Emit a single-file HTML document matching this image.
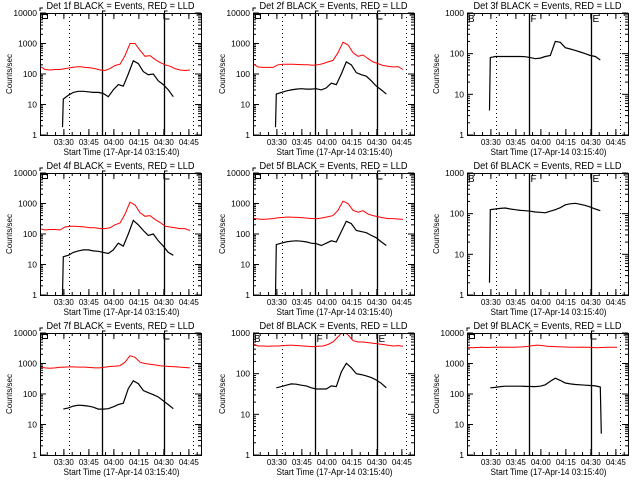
<!DOCTYPE html>
<html><head><meta charset="utf-8"><style>
html,body{margin:0;padding:0;background:#fff;}
svg{display:block;font-family:"Liberation Sans",sans-serif;}
</style></head><body>
<svg id="chart" width="640" height="480" viewBox="0 0 640 480" xmlns="http://www.w3.org/2000/svg"></svg>
<script>
// ---- data ----
const detNames = ["1f","2f","3f","4f","5f","6f","7f","8f","9f"];
const yDecades = [4,4,3,4,4,3,4,3,4];
const markerStyle = ["box","box","letter","box","box","letter","box","letter","box"];
const xTickLabels = ["03:30","03:45","04:00","04:15","04:30","04:45"];
const xTickMinutes = [14.33,29.33,44.33,59.33,74.33,89.33];
const markerMinutes = [17.4,37.2,74.4,91.8]; // dotted, solid, solid, dotted
const blackTimes = [14,17,20,23,26,29,32,35,38,41,44,47,50,53,56,59,62,65,68,71,74,77,80];
const redTimes = [0,3,6,9,12,15,18,21,24,27,30,33,36,39,42,45,48,51,54,57,60,63,66,69,72,75,78,81,84,87,90];
const blackStart = [1.8,1.8,4,1,1,2,null,null,null];
const blackEndDrop = [null,null,null,null,null,null,null,null,5];
const black1 = [15,20,25,27,27,26,25,25,23,18,30,45,40,100,270,220,120,95,100,60,45,30,18];
const black2 = [22,25,28,30,32,33,32,32,33,30,35,50,45,100,250,200,110,95,85,60,40,30,22];
const black3 = [80,85,85,85,85,85,85,84,80,75,78,85,90,200,190,140,130,120,110,100,90,85,70];
const black4 = [18,20,25,28,30,30,28,27,25,23,30,50,40,100,280,200,130,90,100,60,40,25,20];
const black5 = [45,50,55,58,60,58,55,50,48,42,50,60,55,120,260,220,130,120,110,90,75,55,42];
const black6 = [125,130,135,138,130,125,120,118,115,110,108,105,115,125,140,165,175,180,170,160,145,130,118];
const black7 = [32,35,40,43,42,40,37,32,32,33,38,45,50,150,270,220,130,110,95,80,60,45,33];
const black8 = [45,48,52,56,55,52,50,45,42,42,42,50,48,110,180,140,100,95,88,80,70,58,45];
const black9 = [160,165,175,180,180,180,180,178,176,175,180,200,260,330,280,230,215,205,200,195,190,185,170];
const red1 = [180,140,135,140,140,150,160,170,175,165,160,150,135,130,150,190,210,400,1000,1000,600,380,400,300,240,200,180,150,135,130,135];
const red2 = [220,170,165,165,165,200,210,210,210,205,200,200,195,200,220,250,280,500,1100,900,500,380,420,320,250,220,190,180,170,175,140];
const red3 = null;
const red4 = [150,135,140,140,135,170,180,180,175,170,160,160,150,150,160,200,230,450,1100,900,500,380,400,300,240,180,170,160,150,150,130];
const red5 = [330,310,300,310,320,340,350,360,355,350,340,330,320,320,340,370,400,600,1200,1000,600,520,580,450,400,370,340,320,320,310,300];
const red6 = null;
const red7 = [750,720,700,720,750,760,780,770,760,760,740,720,720,760,800,820,850,1100,1800,1600,1100,1000,950,900,850,820,800,780,760,740,720];
const red8 = [550,480,480,470,480,480,490,500,500,490,480,470,460,470,480,520,600,800,1100,900,650,600,600,580,560,540,520,500,480,490,470];
const red9 = [3400,3300,3350,3400,3350,3400,3400,3450,3400,3400,3450,3500,3600,3800,4000,3900,3700,3600,3550,3500,3450,3400,3400,3450,3400,3350,3300,3350,3400,3400,3400];
const blackSeries = [black1,black2,black3,black4,black5,black6,black7,black8,black9];
const redSeries = [red1,red2,red3,red4,red5,red6,red7,red8,red9];

// ---- drawing ----
const svg = document.getElementById('chart');
const NS = 'http://www.w3.org/2000/svg';
function mk(tag, attrs, parent){
  const e = document.createElementNS(NS, tag);
  for (const k in attrs) e.setAttribute(k, attrs[k]);
  parent.appendChild(e);
  return e;
}
const PW = 161, PH = 122, TMAX = 96.6;
for (let i = 0; i < 9; i++){
  const col = i % 3, row = Math.floor(i / 3);
  const L = Math.round(40 + col * 213.33), T = 13 + row * 160;
  const dec = yDecades[i];
  const xs = t => L + t / TMAX * PW;
  const ys = v => T + PH - Math.log10(Math.max(v, 1)) / dec * PH;
  const g = mk('g', {}, svg);
  
  

  const title = mk('text', {x: L + PW/2, y: T - 4, 'font-size': 10, 'text-anchor': 'middle', fill: '#000', textLength: 148, lengthAdjust: 'spacingAndGlyphs'}, g);
  
  
  title.textContent = 'Det ' + detNames[i] + ' BLACK = Events, RED = LLD';

  const clipId = 'clip' + i;
  const cp = mk('clipPath', {id: clipId}, g);
  mk('rect', {x: L, y: T, width: PW, height: PH}, cp);

  // y ticks
  for (let d = 0; d <= dec; d++){
    const y = ys(Math.pow(10, d));
    const lab = mk('text', {x: L - 3, y: y + 3, 'font-size': 8.5, 'text-anchor': 'end', fill: '#000'}, g);
    
    
    lab.textContent = String(Math.pow(10, d));
    mk('line', {x1: L, x2: L + 6, y1: y, y2: y, stroke: '#000'}, g);
    mk('line', {x1: L + PW - 6, x2: L + PW, y1: y, y2: y, stroke: '#000'}, g);
    if (d < dec){
      for (let m = 2; m <= 9; m++){
        const ym = ys(m * Math.pow(10, d));
        mk('line', {x1: L, x2: L + 3, y1: ym, y2: ym, stroke: '#000'}, g);
        mk('line', {x1: L + PW - 3, x2: L + PW, y1: ym, y2: ym, stroke: '#000'}, g);
      }
    }
  }
  const yt = mk('text', {x: 0, y: 0, 'font-size': 8, 'text-anchor': 'middle', fill: '#000', transform: 'translate(' + (L - 28) + ',' + (T + PH/2) + ') rotate(-90)'}, g);
  
  
  yt.textContent = 'Counts/sec';

  // x ticks
  for (let k = 0; k < xTickMinutes.length; k++){
    const x = xs(xTickMinutes[k]);
    mk('line', {x1: x, x2: x, y1: T + PH, y2: T + PH - 6, stroke: '#000'}, g);
    mk('line', {x1: x, x2: x, y1: T, y2: T + 6, stroke: '#000'}, g);
    const lab = mk('text', {x: x, y: T + PH + 10, 'font-size': 8, 'text-anchor': 'middle', fill: '#000'}, g);
    
    
    lab.textContent = xTickLabels[k];
  }
  for (let mm = 4.33; mm < TMAX; mm += 5){
    const x = xs(mm);
    mk('line', {x1: x, x2: x, y1: T + PH, y2: T + PH - 3, stroke: '#000'}, g);
    mk('line', {x1: x, x2: x, y1: T, y2: T + 3, stroke: '#000'}, g);
  }
  const xt = mk('text', {x: L + PW/2 + 1, y: T + PH + 20, 'font-size': 9, 'text-anchor': 'middle', fill: '#000', textLength: 116, lengthAdjust: 'spacingAndGlyphs'}, g);
  
  
  xt.textContent = 'Start Time (17-Apr-14 03:15:40)';

  // marker lines
  for (let k = 0; k < 4; k++){
    const x = Math.round(xs(markerMinutes[k])) + 0.5;
    const solid = (k === 1 || k === 2);
    const ml = mk('line', {x1: x, x2: x, y1: T, y2: T + PH, stroke: '#000', 'stroke-width': solid ? 1.3 : 1, 'stroke-dasharray': solid ? 'none' : '1,3'}, g);
    
    
  }
  const x1 = Math.round(xs(markerMinutes[1])) + 0.5, x2 = Math.round(xs(markerMinutes[2])) + 0.5;
  if (markerStyle[i] === 'box'){
    mk('rect', {x: L + 2.5, y: T + 1.5, width: 5, height: 4, fill: 'none', stroke: '#000'}, g);
    mk('polyline', {points: (x1) + ',' + (T + 6) + ' ' + x1 + ',' + (T - 2) + ' ' + (x1 + 3) + ',' + (T - 2), fill: 'none', stroke: '#000'}, g);
    mk('polyline', {points: (x2 + 5) + ',' + (T + 6) + ' ' + x2 + ',' + (T + 6) + ' ' + x2 + ',' + (T - 2) + ' ' + (x2 + 3) + ',' + (T - 2), fill: 'none', stroke: '#000'}, g);
    mk('polyline', {points: L + ',' + (T - 2) + ' ' + L + ',' + (T - 5) + ' ' + (L + 3) + ',' + (T - 5), fill: 'none', stroke: '#000'}, g);
  } else {
    const letters = ['B','F','E'], lx = [L + 1, x1 + 1, x2 + 1];
    for (let k = 0; k < 3; k++){
      const t = mk('text', {x: lx[k], y: T + 9, 'font-size': 10, fill: '#000'}, g);
      
      
      t.textContent = letters[k];
    }
  }

  // series
  const dg = mk('g', {'clip-path': 'url(#' + clipId + ')'}, g);
  const red = redSeries[i];
  if (red){
    const pts = red.map((v, j) => xs(redTimes[j]).toFixed(1) + ',' + ys(v).toFixed(1)).join(' ');
    const p = mk('polyline', {points: pts, fill: 'none', stroke: '#ff0000', 'stroke-width': 1}, dg);
    
    
  } else {
    const p = mk('line', {x1: L, x2: L + PW * 0.95, y1: T + 0.5, y2: T + 0.5, stroke: '#ff0000', 'stroke-dasharray': '2,30'}, dg);
    
    
  }
  const bl = blackSeries[i];
  let bpts = bl.map((v, j) => [xs(blackTimes[j]), ys(v)]);
  if (blackStart[i] !== null) bpts.unshift([xs(blackTimes[0] - 0.5), ys(blackStart[i])]);
  if (blackEndDrop[i] !== null) bpts.push([bpts[bpts.length - 1][0] + 1, ys(blackEndDrop[i])]);
  const bp = mk('polyline', {points: bpts.map(p => p[0].toFixed(1) + ',' + p[1].toFixed(1)).join(' '), fill: 'none', stroke: '#000', 'stroke-width': 1.2}, dg);
  
  

  const frame = mk('rect', {x: L + 0.5, y: T + 0.5, width: PW, height: PH, fill: 'none', stroke: '#000', 'stroke-width': 1}, g);
  
  
}
</script>
</body></html>
